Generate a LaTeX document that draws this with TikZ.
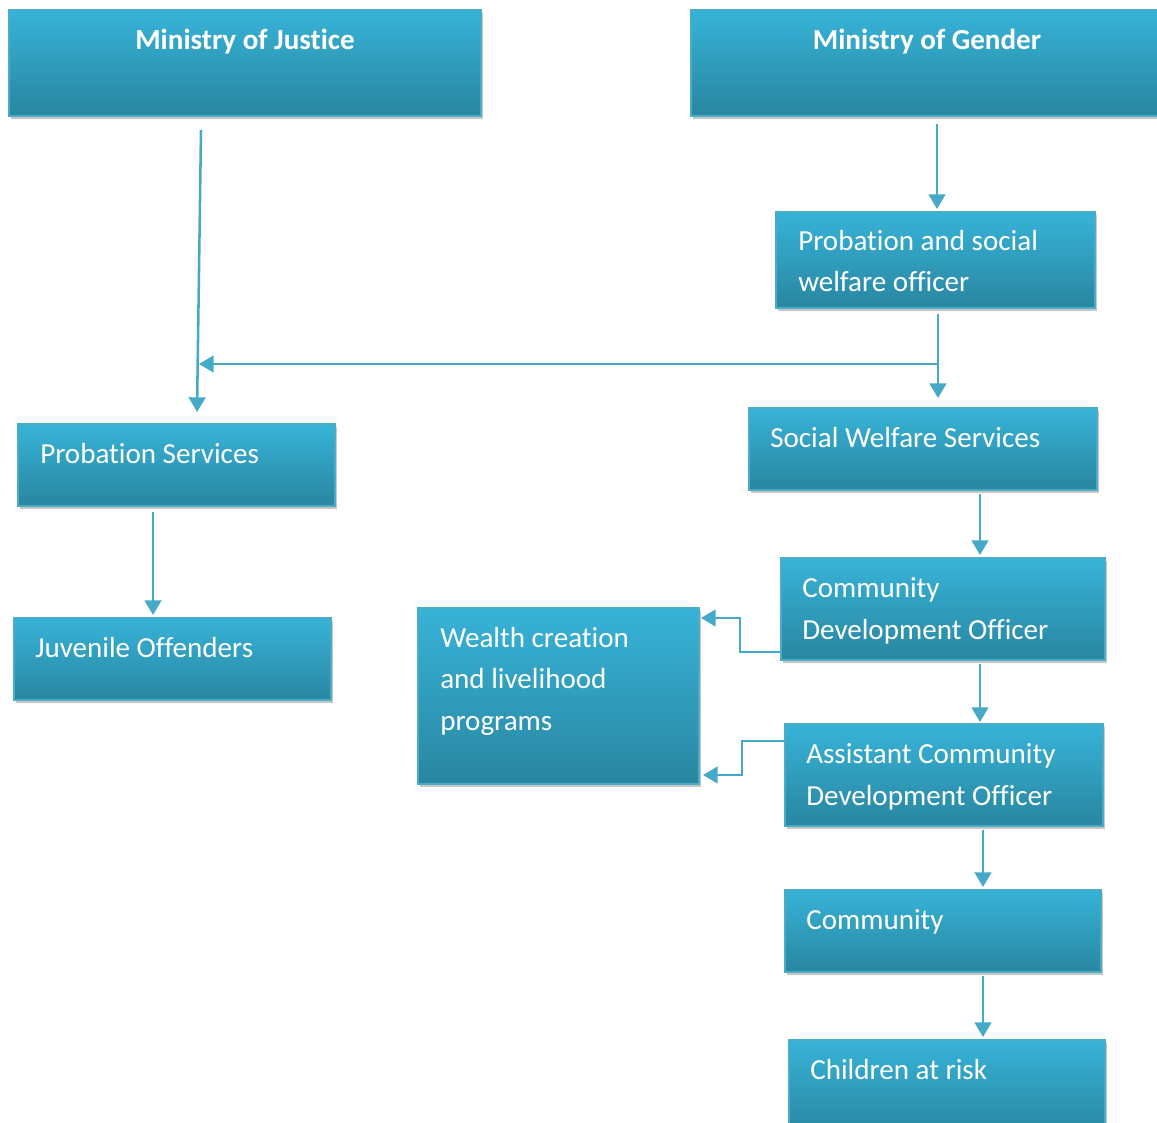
\documentclass[tikz,border=0pt]{standalone}
\usepackage{fontspec}
\setmainfont{Carlito}[RawFeature={-liga;-clig;-calt;-dlig}]
\usetikzlibrary{arrows.meta,fit,calc,shadows}
\definecolor{btop}{HTML}{37B3D8}
\definecolor{bbot}{HTML}{2986A0}
\definecolor{bedge}{HTML}{4BACC6}
\definecolor{arrc}{HTML}{45A9C8}
\begin{document}
\begin{tikzpicture}[x=0.75pt,y=-0.75pt,
  box/.style={rectangle, inner sep=0pt, outer sep=0pt, draw=bedge, line width=1.2pt,
    top color=btop, bottom color=bbot,
    drop shadow={shadow xshift=1.5pt, shadow yshift=-2.25pt, opacity=0.22, fill=black}},
  lbl/.style={anchor=base west, inner sep=0pt, text=white, font=\fontsize{21.8}{26}\selectfont},
  ttl/.style={anchor=base, inner sep=0pt, text=white, font=\fontsize{21.8}{26}\selectfont\bfseries},
  conn/.style={draw=arrc, line width=1.9pt, -{Triangle[length=11pt,width=12.5pt]}}]
\useasboundingbox (0,0) rectangle (1157,1123);

% boxes
\node[box, fit={(9,10) (481,116)}] (moj) {};
\node[box, fit={(691,10) (1165,116)}] (mog) {};
\node[box, fit={(776,212) (1095,308)}] (pswo) {};
\node[box, fit={(749,408) (1097,490)}] (sws) {};
\node[box, fit={(18,424) (335,506)}] (ps) {};
\node[box, fit={(14,618) (331,700)}] (jo) {};
\node[box, fit={(781,558) (1105,660)}] (cdo) {};
\node[box, fit={(418,608) (699,784)}] (wcl) {};
\node[box, fit={(785,724) (1103,826)}] (acdo) {};
\node[box, fit={(785,890) (1101,972)}] (com) {};
\node[box, fit={(789,1040) (1105,1135)}] (car) {};

% texts
\node[ttl] (tmoj) at ($(moj.north)+(0,40)$) {Ministry of Justice};
\node[ttl] (tmog) at ($(mog.north)+(-1,40)$) {Ministry of Gender};
\node[lbl] (tpswoa) at ($(pswo.north west)+(22,39)$) {Probation and social};
\node[lbl] (tpswob) at ($(pswo.north west)+(22,80)$) {welfare officer};
\node[lbl] (tsws) at ($(sws.north west)+(21,39)$) {Social Welfare Services};
\node[lbl] (tps) at ($(ps.north west)+(22,39)$) {Probation Services};
\node[lbl] (tjo) at ($(jo.north west)+(21,39)$) {Juvenile Offenders};
\node[lbl] (tcdoa) at ($(cdo.north west)+(21,39)$) {Community};
\node[lbl] (tcdob) at ($(cdo.north west)+(21,81)$) {Development Officer};
\node[lbl] (twcla) at ($(wcl.north west)+(22,39)$) {Wealth creation};
\node[lbl] (twclb) at ($(wcl.north west)+(22,80)$) {and livelihood};
\node[lbl] (twclc) at ($(wcl.north west)+(22,122)$) {programs};
\node[lbl] (tacdoa) at ($(acdo.north west)+(21,39)$) {Assistant Community};
\node[lbl] (tacdob) at ($(acdo.north west)+(21,81)$) {Development Officer};
\node[lbl] (tcom) at ($(com.north west)+(21,39)$) {Community};
\node[lbl] (tcar) at ($(car.north west)+(21,39)$) {Children at risk};

% connectors
\draw[conn] ($(moj.south)+(-44,14)$) -- ($(ps.north)+(20.5,-12)$);
\draw[conn] ($(ps.south)+(-23.5,6)$) -- ($(jo.north)+(-19.5,-3)$);
\draw[conn] ($(mog.south)+(9,8)$) -- ($(pswo.north)+(1.5,-3)$);
\draw[conn] ($(pswo.south)+(2.5,6)$) -- ($(sws.north)+(15,-10)$);
\coordinate (jr) at ($(pswo.south)+(2.5,56)$);
\coordinate (jl) at ($(ps.north)+(22.5,-60)$);
\draw[conn] (jr) -- (jl);
\draw[conn] ($(sws.south)+(57,4)$) -- ($(cdo.north)+(37,-3)$);
\draw[conn] ($(cdo.south)+(37,4)$) -- ($(acdo.north)+(36,-2)$);
\draw[conn] ($(acdo.south)+(39,4)$) -- ($(com.north)+(40,-3)$);
\draw[conn] ($(com.south)+(40,4)$) -- ($(car.north)+(36,-3)$);
\draw[conn] ($(cdo.west)+(0,43)$) -| ($(cdo.west)+(-41,9)$) -- ($(wcl.north east)+(2,10)$);
\draw[conn] ($(acdo.west)+(0,-34)$) -| ($(acdo.west)+(-43,0)$) -- ($(wcl.south east)+(4,-9)$);
\end{tikzpicture}
\end{document}
